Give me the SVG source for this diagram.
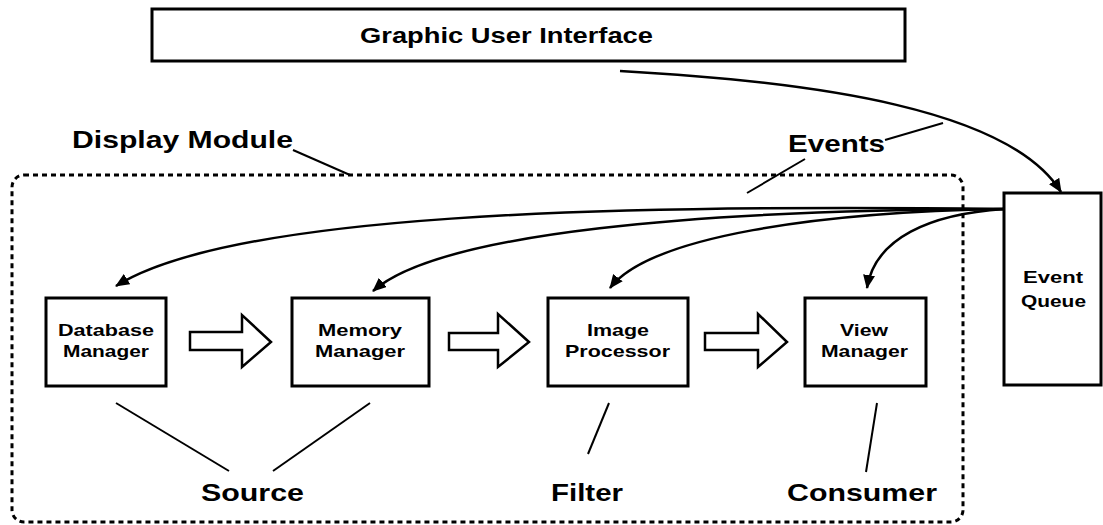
<svg xmlns="http://www.w3.org/2000/svg" width="1103" height="525" viewBox="0 0 1103 525">
  <defs>
    <marker id="head" markerUnits="userSpaceOnUse" markerWidth="14" markerHeight="12" refX="13" refY="6" orient="auto">
      <path d="M0,0 L14,6 L0,12 Z" fill="#000"/>
    </marker>
    <style>
      .box { fill: #fff; stroke: #000; stroke-width: 3; }
      .lbl { font-family: "Liberation Sans", Arial, sans-serif; font-weight: bold; fill: #000; }
      .small { font-size: 17px; }
      .big { font-size: 24px; }
      .conn { fill: none; stroke: #000; stroke-width: 2.5; }
      .lead { fill: none; stroke: #000; stroke-width: 2; }
      .flow { fill: #fff; stroke: #000; stroke-width: 2.5; stroke-linejoin: miter; }
      .module { fill: none; stroke: #000; stroke-width: 3; stroke-dasharray: 5 4; }
    </style>
  </defs>

  <rect width="1103" height="525" fill="#fff"/>

  <!-- Display module boundary -->
  <g id="display-module">
    <rect class="module" x="12" y="175" width="951" height="347" rx="12" ry="12"/>
    <text class="lbl big" x="72" y="148" textLength="221" lengthAdjust="spacingAndGlyphs">Display Module</text>
  </g>

  <!-- Graphic user interface -->
  <g id="gui">
    <rect class="box" x="152" y="9" width="753" height="52"/>
    <text class="lbl" font-size="22" x="360" y="43" textLength="293" lengthAdjust="spacingAndGlyphs">Graphic User Interface</text>
  </g>

  <!-- Pipeline stages -->
  <g id="database-manager">
    <rect class="box" x="46" y="298" width="120" height="88"/>
    <text class="lbl small" x="58" y="336" textLength="96" lengthAdjust="spacingAndGlyphs">Database</text>
    <text class="lbl small" x="63" y="357" textLength="86" lengthAdjust="spacingAndGlyphs">Manager</text>
  </g>
  <g id="memory-manager">
    <rect class="box" x="292" y="298" width="137" height="88"/>
    <text class="lbl small" x="318" y="336" textLength="84" lengthAdjust="spacingAndGlyphs">Memory</text>
    <text class="lbl small" x="315" y="357" textLength="90" lengthAdjust="spacingAndGlyphs">Manager</text>
  </g>
  <g id="image-processor">
    <rect class="box" x="548" y="298" width="140" height="88"/>
    <text class="lbl small" x="587" y="336" textLength="62" lengthAdjust="spacingAndGlyphs">Image</text>
    <text class="lbl small" x="565" y="357" textLength="105" lengthAdjust="spacingAndGlyphs">Processor</text>
  </g>
  <g id="view-manager">
    <rect class="box" x="805" y="298" width="121" height="88"/>
    <text class="lbl small" x="840" y="336" textLength="48" lengthAdjust="spacingAndGlyphs">View</text>
    <text class="lbl small" x="821" y="357" textLength="87" lengthAdjust="spacingAndGlyphs">Manager</text>
  </g>
  <g id="event-queue">
    <rect class="box" x="1004" y="193" width="97" height="192"/>
    <text class="lbl small" x="1023" y="283" textLength="60" lengthAdjust="spacingAndGlyphs">Event</text>
    <text class="lbl small" x="1021" y="307" textLength="65" lengthAdjust="spacingAndGlyphs">Queue</text>
  </g>

  <!-- Role labels -->
  <g id="roles">
    <text class="lbl big" x="201" y="501" textLength="103" lengthAdjust="spacingAndGlyphs">Source</text>
    <text class="lbl big" x="551" y="501" textLength="72" lengthAdjust="spacingAndGlyphs">Filter</text>
    <text class="lbl big" x="787" y="501" textLength="150" lengthAdjust="spacingAndGlyphs">Consumer</text>
    <text class="lbl big" x="788" y="152" textLength="97" lengthAdjust="spacingAndGlyphs">Events</text>
  </g>

  <!-- Connectors -->
  <g id="connectors">
    <!-- data flow between stages -->
    <path class="flow" d="M190,332 H242 V315 L271,342 L242,367 V350 H190 Z"/>
    <path class="flow" d="M449,333 H498 V314 L529,342 L498,367 V350 H449 Z"/>
    <path class="flow" d="M705,333 H758 V314 L787,342 L758,367 V350 H705 Z"/>

    <!-- GUI to event queue -->
    <path class="conn" d="M620,71 C820,82 1010,110 1061,192" marker-end="url(#head)"/>

    <!-- event queue dispatch to stages -->
    <path class="conn" d="M1004,209 C600,204 230,214 116,286" marker-end="url(#head)"/>
    <path class="conn" d="M1004,209 C700,210 440,232 373,291" marker-end="url(#head)"/>
    <path class="conn" d="M1004,209 C820,212 650,236 610,288" marker-end="url(#head)"/>
    <path class="conn" d="M1004,209 C930,214 875,238 867,288" marker-end="url(#head)"/>

    <!-- annotation leaders -->
    <line class="lead" x1="293" y1="150" x2="350" y2="175"/>
    <line class="lead" x1="885" y1="140" x2="943" y2="123"/>
    <line class="lead" x1="805" y1="159" x2="747" y2="193"/>
    <line class="lead" x1="116" y1="403" x2="229" y2="471"/>
    <line class="lead" x1="370" y1="403" x2="273" y2="471"/>
    <line class="lead" x1="609" y1="403" x2="588" y2="454"/>
    <line class="lead" x1="877" y1="403" x2="866" y2="472"/>
  </g>
</svg>
